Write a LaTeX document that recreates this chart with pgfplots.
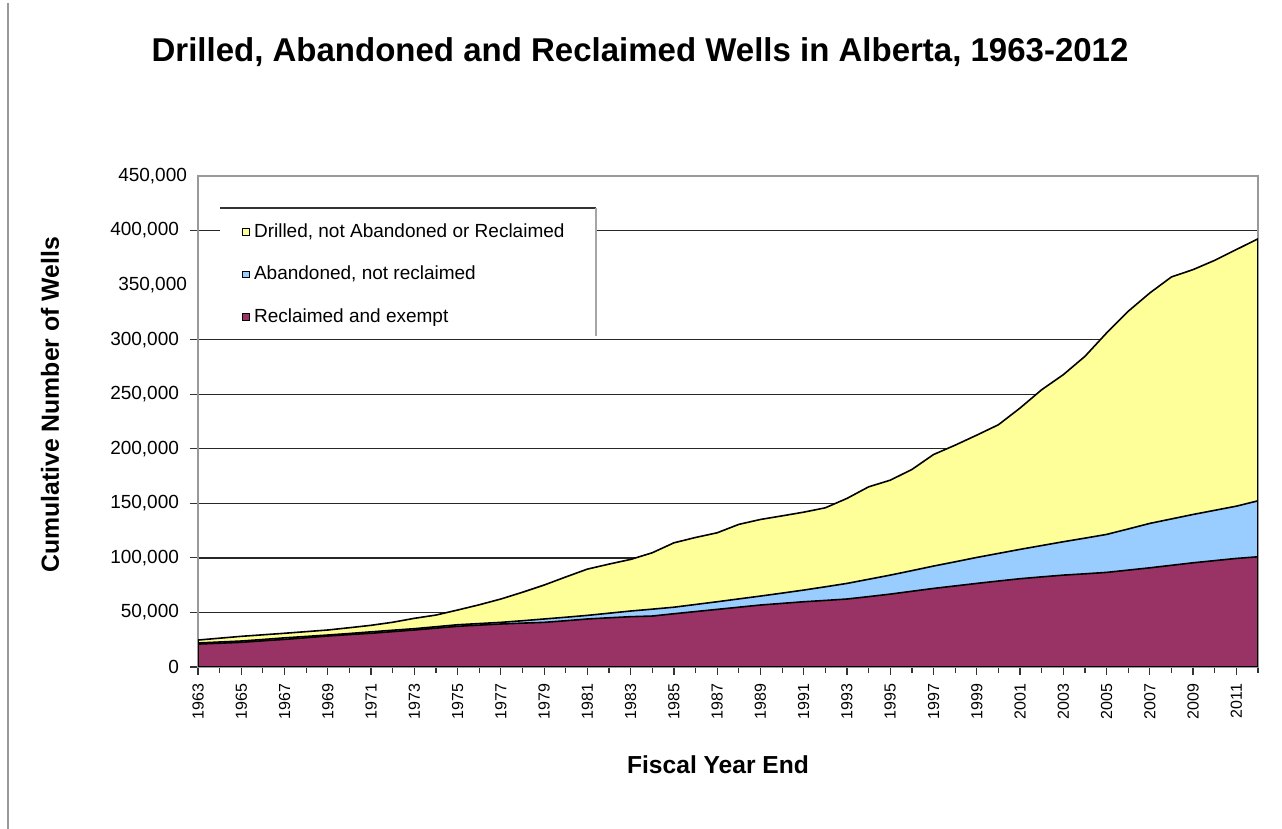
\documentclass[border=0pt]{standalone}
\usepackage{pgfplots}
\pgfplotsset{compat=1.18}
\usepackage{pgfplotstable}
\usepackage{fontspec}
\setmainfont{Liberation Sans}
\definecolor{yel}{HTML}{FFFF99}
\definecolor{blu}{HTML}{99CCFF}
\definecolor{mar}{HTML}{993366}

\pgfplotstableread{
year red blue total
1963 21000 22000 24700
1964 21800 22900 26400
1965 22600 23800 28100
1966 24000 25200 29500
1967 25300 26700 30900
1968 26800 28000 32400
1969 28400 29300 33900
1970 29700 30700 36000
1971 30900 32200 38200
1972 32400 33700 41000
1973 33900 35100 44600
1974 35600 36900 47600
1975 37300 38700 52200
1976 38400 39800 57000
1977 39400 40900 62300
1978 40200 42400 68500
1979 40900 44000 75100
1980 42400 45600 82500
1981 44000 47300 89700
1982 45100 49300 94300
1983 46100 51300 98600
1984 46700 53000 104700
1985 48800 54800 113800
1986 50800 57300 118700
1987 52800 59800 123000
1988 54800 62400 130700
1989 56800 65000 135200
1990 58300 67700 138500
1991 59800 70500 141900
1992 61000 73500 145900
1993 62300 76600 154500
1994 64500 80400 165100
1995 66800 84200 171200
1996 69400 88300 181000
1997 72000 92500 194700
1998 74300 96400 203300
1999 76600 100400 212500
2000 78800 104100 222000
2001 80900 107800 237300
2002 82600 111300 254100
2003 84200 114800 267900
2004 85400 118100 284700
2005 86700 121500 306100
2006 88800 126500 326000
2007 90900 131600 342800
2008 93200 135700 357500
2009 95500 139800 364200
2010 97500 143600 372700
2011 99500 147400 382600
2012 101000 152300 392400
}\wells

\begin{document}
\begin{tikzpicture}
\useasboundingbox (0,0) rectangle (641pt,414.5pt);
\draw[gray!80, line width=1pt] (4pt,0) -- (4pt,413pt);
\begin{axis}[
  scale only axis,
  width=530pt, height=245.5pt,
  at={(99pt,81pt)}, anchor=south west,
  xmin=1963, xmax=2012,
  ymin=0, ymax=450000,
  xtick={1963,1965,...,2011},
  minor xtick={1964,1966,...,2012},
  ytick={0,50000,100000,150000,200000,250000,300000,400000},
  extra y ticks={350000,450000},
  extra y tick labels={{350,000},{450,000}},
  extra y tick style={grid=none, major tick length=0pt},
  scaled y ticks=false,
  tick align=outside,
  major tick length=4pt, minor tick length=3pt,
  xtick pos=bottom, ytick pos=left,
  tick style={black!80, line width=0.6pt},
  axis line style={gray!80, line width=0.6pt},
  ymajorgrids,
  grid style={black!85, line width=0.7pt},
  yticklabel={\pgfmathprintnumber[fixed, precision=0, 1000 sep={,}, assume math mode=true]{\tick}},
  xticklabel={\pgfmathprintnumber[fixed, precision=0, 1000 sep={}, assume math mode=true]{\tick}},
  yticklabel style={font=\fontsize{9.5}{11}\selectfont, xshift=-2pt},
  xticklabel style={font=\fontsize{8}{10}\selectfont, rotate=90, anchor=east, xshift=-1pt},
  title={\bfseries Drilled, Abandoned and Reclaimed Wells in Alberta, 1963-2012},
  title style={font=\fontsize{16.5}{19}\selectfont, at={(axis description cs:0.417,1.2285)}, anchor=center},
  xlabel={\bfseries Fiscal Year End},
  xlabel style={font=\fontsize{12.3}{14}\selectfont, at={(axis description cs:0.4906,-0.1996)}, anchor=center},
  ylabel={\bfseries Cumulative Number of Wells},
  ylabel style={font=\fontsize{12.4}{14}\selectfont, at={(axis description cs:-0.1396,0.534)}, anchor=center},
  legend cell align=left,
  legend image code/.code={\draw[#1, draw=black, line width=0.4pt] (0pt,-1.7pt) rectangle (3.4pt,1.7pt);},
  legend style={draw=none, fill=none, at={(axis description cs:0.0208,0.935)}, anchor=north west,
    font=\fontsize{9.5}{11}\selectfont, row sep=9pt, inner xsep=11pt, inner ysep=5.5pt},
]
\addplot[fill=yel, draw=black, line width=0.8pt] table[x=year,y=total]{\wells} \closedcycle;
\addlegendentry{Drilled, not Abandoned or Reclaimed}
\addplot[fill=blu, draw=black, line width=0.8pt] table[x=year,y=blue]{\wells} \closedcycle;
\addlegendentry{Abandoned, not reclaimed}
\addplot[fill=mar, draw=black, line width=0.8pt] table[x=year,y=red]{\wells} \closedcycle;
\addlegendentry{Reclaimed and exempt}
\fill[white] (axis description cs:0.0208,0.935) rectangle (axis description cs:0.3755,0.6741);
\draw[black!80, line width=0.6pt] (axis description cs:0.0208,0.935) -- (axis description cs:0.3755,0.935);
\draw[gray!70, line width=0.8pt] (axis description cs:0.3755,0.935) -- (axis description cs:0.3755,0.6741);
\end{axis}
\end{tikzpicture}
\end{document}
